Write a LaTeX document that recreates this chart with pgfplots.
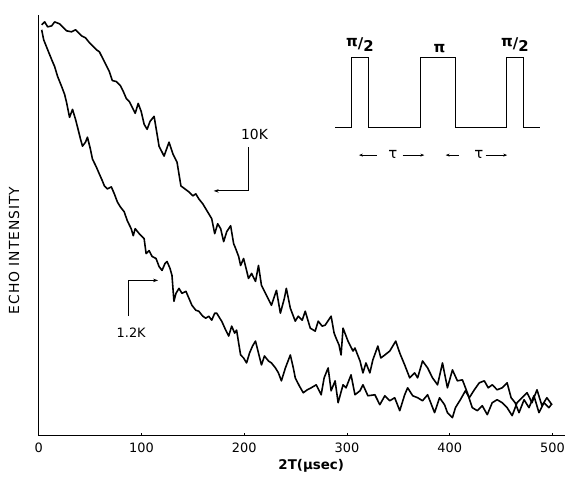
\documentclass[border=0pt]{standalone}
\usepackage{fontspec}
\setmainfont{DejaVu Sans}
\usepackage{pgfplots}
\pgfplotsset{compat=1.18}
\usetikzlibrary{arrows.meta}
\begin{document}
\begin{tikzpicture}
\begin{axis}[
  scale only axis, width=529bp, height=423bp,
  xmin=0, xmax=512, ymin=0, ymax=423,
  axis x line*=bottom, axis y line*=left,
  clip=false,
  xtick={0,100,200,300,400,500}, ytick=\empty,
  tick align=inside, major tick length=3bp,
  tick style={black, line width=0.8pt},
  axis line style={black, line width=1.2pt},
  /pgf/number format/assume math mode=true,
  xticklabel style={font=\fontsize{13}{15}\selectfont, yshift=-4bp},
  xlabel={2T(μsec)},
  xlabel style={font=\fontsize{13.5}{15}\selectfont\bfseries, at={(axis description cs:0.518,-0.071)}, anchor=center},
  ylabel={ECHO INTENSITY},
  ylabel style={font=\fontsize{14}{15}\selectfont\addfontfeatures{LetterSpace=7}, at={(axis description cs:-0.047,0.44)}, anchor=center},
]
% invisible frame keeping the reference proportions
\path (axis cs:-37.7,-47) rectangle (axis cs:512,438);

% 10 K
\addplot[black, line width=1.6pt, line join=round] coordinates {
(2.9,413)(5.8,416)(8.7,411)(12.6,412)(15.5,416)(20.3,414)(24.2,410)(27.1,407)(31.9,406)(35.8,408)(37.8,406)(41.6,402)(45.5,400)(49.4,395)(53.2,391)(56.1,388)(59,386)(62.9,378)(65.8,372)(68.7,366)(71.6,357)(75.5,356)(79.4,352)(82.3,346)(85.2,339)(88.1,336)(91,330)(93.9,324)(96.8,334)(99.7,326)(102.6,313)(105.5,308)(108.4,316)(112.3,321)(115.2,303)(117.1,291)(122,281)(126.8,295)(130.7,283)(134.6,275)(138.4,251)(142.3,248)(146.2,245)(150,241)(152.9,243)(155.8,238)(159.7,233)(162.6,228)(165.5,223)(168.4,218)(171.3,203)(174.2,213)(177.1,208)(180,195)(183,205)(186.8,211)(189.7,193)(191.7,188)(194.6,180)(196.5,171)(199.4,178)(202.3,166)(204.2,158)(207.2,163)(211,155)(213.9,171)(216.8,151)(221.7,141)(226.5,131)(231.4,146)(235.2,123)(239.1,138)(241,148)(244.9,128)(249.7,115)(252.6,120)(256.5,116)(259.4,125)(264.3,108)(269.1,105)(272,115)(275.9,110)(278.8,111)(284.6,120)(287.5,103)(289.4,98)(292.3,91)(294.3,81)(296.2,108)(301,95)(305.9,85)(307.8,88)(312.7,75)(315.6,63)(318.5,73)(322.3,63)(325.2,76)(330.1,90)(333,78)(336.9,81)(341.7,85)(347.5,95)(351.4,83)(356.2,71)(361.1,58)(365.9,63)(368.8,58)(373.6,75)(378.5,68)(383.3,58)(388.2,51)(393,73)(397.8,48)(402.7,66)(407.5,55)(412.4,56)(417.2,43)(422,28)(426.9,25)(431.7,30)(436.6,21)(441.4,33)(446.2,36)(451.1,33)(455.9,28)(460.8,20)(465.6,33)(470.4,38)(475.3,43)(480.1,33)(485,46)(489.8,30)(494.6,38)(499.5,31)
};

% 1.2 K
\addplot[black, line width=1.6pt, line join=round] coordinates {
(2.9,408)(4.8,398)(8.7,388)(12.6,378)(15.5,371)(18.4,361)(22.3,351)(25.2,343)(27.1,335)(30,320)(32.9,328)(35.8,318)(37.8,310)(40.7,298)(42.6,291)(45.5,295)(47.4,300)(50.3,288)(52.3,278)(56.1,270)(59,263)(62,256)(63.9,251)(66.8,248)(70.7,250)(73.6,243)(76.5,235)(79.4,230)(83.2,225)(86.2,216)(90,208)(92,201)(93.9,208)(97.8,203)(102.6,198)(104.5,183)(107.4,186)(110.4,180)(114.2,178)(117.1,170)(120,166)(122.9,173)(124.9,175)(127.8,168)(129.7,161)(131.6,135)(133.6,143)(136.5,148)(139.4,143)(143.3,145)(146.2,138)(149.1,131)(152.9,126)(155.8,125)(159.7,120)(162.6,118)(165.5,120)(168.4,116)(171.3,123)(173.3,123)(176.2,118)(178.1,115)(182,106)(184.9,100)(187.8,110)(190.7,103)(192.6,106)(194.6,93)(196.5,81)(199.4,78)(202.3,73)(205.2,83)(208.1,90)(211,95)(213.9,83)(216.8,71)(219.7,80)(223.6,75)(226.5,73)(230.4,68)(233.3,63)(236.2,55)(240.1,68)(244.9,81)(247.8,68)(249.7,58)(253.6,50)(257.5,43)(261.4,46)(265.2,48)(270.1,51)(274.9,41)(277.8,58)(281.7,68)(284.6,45)(288.5,55)(291.4,33)(296.2,51)(299.1,48)(304,61)(307.8,41)(312.7,45)(315.6,51)(320.4,40)(327.2,41)(332,31)(336.9,40)(341.7,35)(346.5,38)(351.4,25)(356.2,41)(359.1,48)(364,40)(368.8,38)(373.6,35)(378.5,41)(385.3,23)(390.1,38)(395,31)(397.8,23)(402.7,18)(405.6,28)(410.4,36)(415.3,45)(419.1,38)(424,46)(428.8,53)(433.7,55)(437.5,48)(441.4,51)(446.2,46)(451.1,48)(455.9,53)(459.8,38)(463.7,33)(467.5,23)(472.4,36)(477.2,28)(482,40)(486.9,23)(491.7,33)(496.6,28)(499.5,32)
};

% inset pulse sequence
\addplot[black, line width=1pt] coordinates {
(288.5,310)(304.9,310)(304.9,380)(321.4,380)(321.4,310)(371.7,310)(371.7,380)(405.6,380)(405.6,310)(455,310)(455,380)(471.4,380)(471.4,310)(487.9,310)
};
\node[font=\fontsize{15}{15}\selectfont\bfseries, inner sep=0pt] at (axis cs:312.7,393) {\raisebox{0.3ex}{π}/\raisebox{-0.4ex}{2}};
\node[font=\fontsize{15}{15}\selectfont\bfseries, inner sep=0pt] at (axis cs:390.1,389) {π};
\node[font=\fontsize{15}{15}\selectfont\bfseries, inner sep=0pt] at (axis cs:463.5,393) {\raisebox{0.3ex}{π}/\raisebox{-0.4ex}{2}};
\node[font=\fontsize{15}{15}\selectfont, inner sep=0pt] at (axis cs:344.6,283) {τ};
\node[font=\fontsize{15}{15}\selectfont, inner sep=0pt] at (axis cs:428.4,283) {τ};
\draw[line width=0.8pt, {Stealth[length=4pt,width=3pt]}-] (axis cs:311.7,282) -- (axis cs:329.4,282);
\draw[line width=0.8pt, -{Stealth[length=4pt,width=3pt]}] (axis cs:354.3,282) -- (axis cs:375.3,282);
\draw[line width=0.8pt, {Stealth[length=4pt,width=3pt]}-] (axis cs:396.1,282) -- (axis cs:409,282);
\draw[line width=0.8pt, -{Stealth[length=4pt,width=3pt]}] (axis cs:434.9,282) -- (axis cs:456,282);

% curve labels
\node[font=\fontsize{14}{15}\selectfont] at (axis cs:210,303) {10K};
\draw[line width=0.9pt, -{Stealth[length=5pt,width=3.5pt]}] (axis cs:204.2,290) -- (axis cs:204.2,246) -- (axis cs:170.3,246);
\node[font=\fontsize{13}{15}\selectfont] at (axis cs:90,103) {1.2K};
\draw[line width=0.9pt, -{Stealth[length=5pt,width=3.5pt]}] (axis cs:87.1,120) -- (axis cs:87.1,156) -- (axis cs:116.2,156);
\end{axis}
\end{tikzpicture}
\end{document}
